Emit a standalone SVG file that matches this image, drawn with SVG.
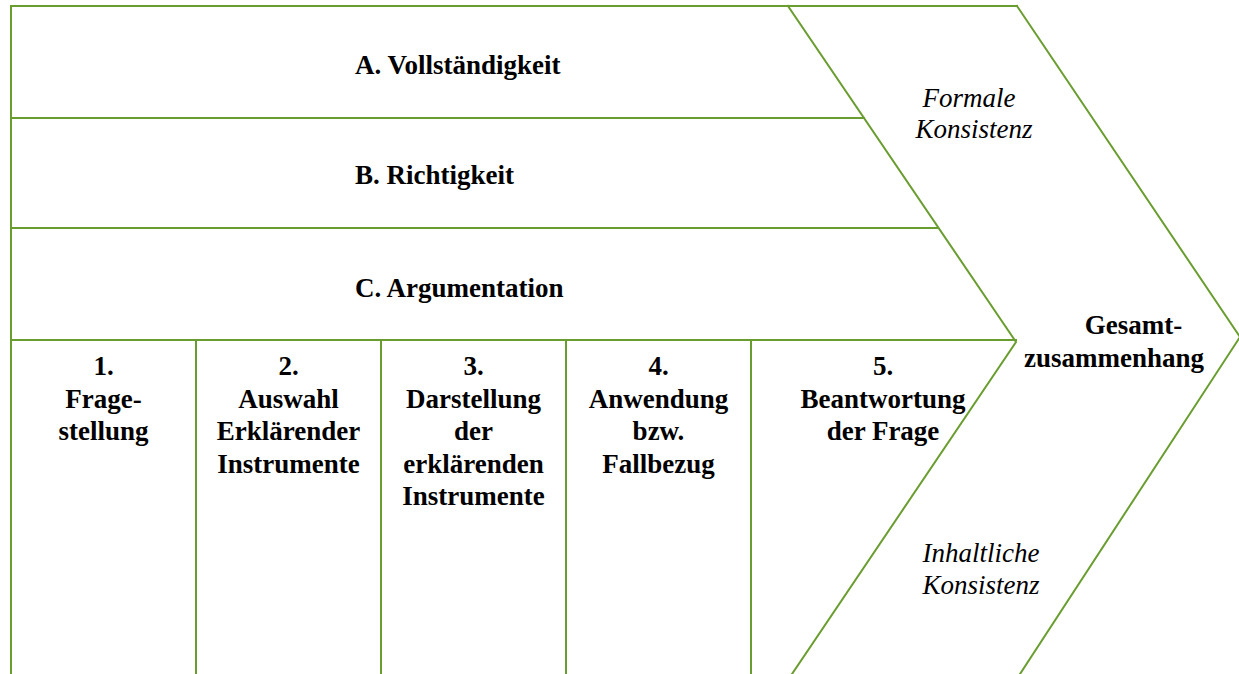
<svg xmlns="http://www.w3.org/2000/svg" width="1239" height="674" viewBox="0 0 1239 674">
<style>
.ln{stroke:#6a9d30;stroke-width:2;fill:none;stroke-linecap:square}
.c{text-anchor:middle}
</style>
<rect width="1239" height="674" fill="#fff"/>
<g id="connectors">
<path class="ln" d="M11,6 H1017"/>
<path class="ln" d="M11,6 V674"/>
<path class="ln" d="M788,6 L1016,342 L792,674"/>
<path class="ln" d="M1017,6 L1240,337 L1020,674"/>
<path class="ln" d="M11,118 H864"/>
<path class="ln" d="M11,228 H938"/>
<path class="ln" d="M11,340 H1016"/>
<path class="ln" d="M196,340 V674"/>
<path class="ln" d="M381,340 V674"/>
<path class="ln" d="M566,340 V674"/>
<path class="ln" d="M751,340 V674"/>
</g>
<g id="bandA"><text font-family="Liberation Serif" font-weight="bold" font-size="27" x="355" y="74">A. Vollständigkeit</text></g>
<g id="bandB"><text font-family="Liberation Serif" font-weight="bold" font-size="27" x="355" y="184">B. Richtigkeit</text></g>
<g id="bandC"><text font-family="Liberation Serif" font-weight="bold" font-size="27" x="355" y="297">C. Argumentation</text></g>
<g id="col1"><text font-family="Liberation Serif" font-weight="bold" font-size="27" class="c"><tspan x="103.5" y="375">1.</tspan><tspan x="103.5" y="407.5">Frage-</tspan><tspan x="103.5" y="440">stellung</tspan></text></g>
<g id="col2"><text font-family="Liberation Serif" font-weight="bold" font-size="27" class="c"><tspan x="288.5" y="375">2.</tspan><tspan x="288.5" y="407.5">Auswahl</tspan><tspan x="288.5" y="440">Erklärender</tspan><tspan x="288.5" y="472.5">Instrumente</tspan></text></g>
<g id="col3"><text font-family="Liberation Serif" font-weight="bold" font-size="27" class="c"><tspan x="473.5" y="375">3.</tspan><tspan x="473.5" y="407.5">Darstellung</tspan><tspan x="473.5" y="440">der</tspan><tspan x="473.5" y="472.5">erklärenden</tspan><tspan x="473.5" y="505">Instrumente</tspan></text></g>
<g id="col4"><text font-family="Liberation Serif" font-weight="bold" font-size="27" class="c"><tspan x="658.5" y="375">4.</tspan><tspan x="658.5" y="407.5">Anwendung</tspan><tspan x="658.5" y="440">bzw.</tspan><tspan x="658.5" y="472.5">Fallbezug</tspan></text></g>
<g id="col5"><text font-family="Liberation Serif" font-weight="bold" font-size="27" class="c"><tspan x="883" y="375">5.</tspan><tspan x="883" y="407.5">Beantwortung</tspan><tspan x="883" y="440">der Frage</tspan></text></g>
<g id="formal"><text font-family="Liberation Serif" font-style="italic" font-size="27" class="c"><tspan x="969" y="107">Formale</tspan><tspan x="974" y="138">Konsistenz</tspan></text></g>
<g id="inhalt"><text font-family="Liberation Serif" font-style="italic" font-size="27" class="c"><tspan x="981" y="562">Inhaltliche</tspan><tspan x="981" y="594">Konsistenz</tspan></text></g>
<g id="gesamt"><text font-family="Liberation Serif" font-weight="bold" font-size="27" class="c"><tspan x="1133.5" y="334">Gesamt-</tspan><tspan x="1114" y="367">zusammenhang</tspan></text></g>
</svg>
